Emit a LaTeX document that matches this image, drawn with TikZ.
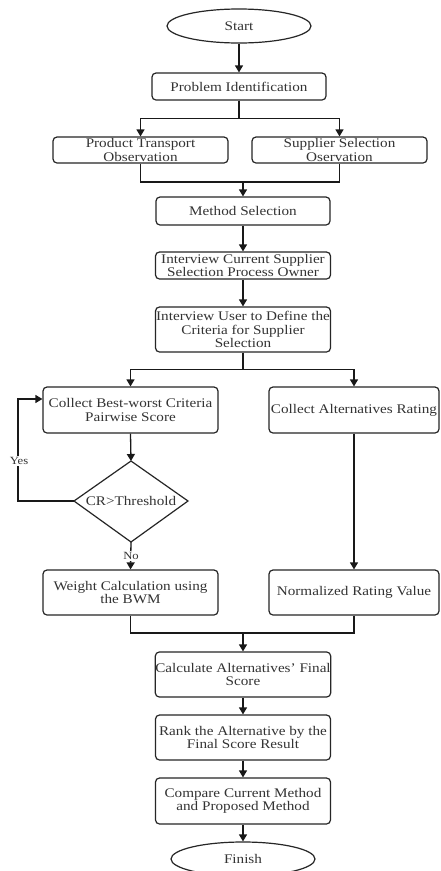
\documentclass[tikz,border=0pt]{standalone}
\usepackage{fontspec}
\setmainfont{Liberation Serif}[FakeStretch=1.15]
\usetikzlibrary{arrows.meta,shapes.geometric,calc}
\begin{document}
\begin{tikzpicture}[x=1pt,y=-1pt,
  every node/.style={font=\fontsize{13.2}{13.3}\selectfont, text=black!80},
  box/.style={draw=black!85, line width=1.2pt, rounded corners=4pt, align=center, inner sep=0pt},
  term/.style={draw=black!85, line width=1.2pt, ellipse, inner sep=0pt},
  ln/.style={draw=black!90, line width=1.3pt},
  arr/.style={ln, -{Triangle[width=8pt,length=7pt]}},
  lbl/.style={font=\fontsize{11}{12}\selectfont, fill=white, inner sep=1pt, text=black!80}]
\useasboundingbox (0,0) rectangle (440,871);
\fill[white] (0,0) rectangle (440,871);

\node[term, minimum width=144pt, minimum height=34pt] (start) at (239,26) {Start};
\node[box, minimum width=174pt, minimum height=27pt] (pi) at (239,86.5) {Problem Identification};
\node[box, minimum width=175pt, minimum height=26pt] (pto) at (140.5,150) {Product Transport\\Observation};
\node[box, minimum width=175pt, minimum height=26pt] (sso) at (339.5,150) {Supplier Selection\\Oservation};
\node[box, minimum width=174pt, minimum height=28pt] (ms) at (243,211) {Method Selection};
\node[box, minimum width=175pt, minimum height=27pt] (icur) at (243,265.5) {Interview Current Supplier\\Selection Process Owner};
\node[box, minimum width=175pt, minimum height=45pt] (iuser) at (243,329.5) {Interview User to Define the\\Criteria for Supplier\\Selection};
\node[box, minimum width=175pt, minimum height=46pt] (cb) at (130.5,410) {Collect Best-worst Criteria\\Pairwise Score};
\node[box, minimum width=170pt, minimum height=46pt] (ca) at (354,410) {Collect Alternatives Rating};
\coordinate (diaT) at (131,461);
\coordinate (diaR) at (188,501);
\coordinate (diaB) at (131,542);
\coordinate (diaL) at (74,501);
\draw[draw=black!85, line width=1.2pt, line join=miter] (diaT) -- (diaR) -- (diaB) -- (diaL) -- cycle;
\node (dia) at (131,501) {CR>Threshold};
\node[box, minimum width=175pt, minimum height=45pt] (wc) at (130.5,592.5) {Weight Calculation using\\the BWM};
\node[box, minimum width=170pt, minimum height=45pt] (nrv) at (354,592.5) {Normalized Rating Value};
\node[box, minimum width=175pt, minimum height=45pt] (calc) at (243,674.5) {Calculate Alternatives' Final\\Score};
\node[box, minimum width=175pt, minimum height=45pt] (rank) at (243,737.5) {Rank the Alternative by the\\Final Score Result};
\node[box, minimum width=175pt, minimum height=46pt] (comp) at (243,801) {Compare Current Method\\and Proposed Method};
\node[term, minimum width=144pt, minimum height=34pt] (finish) at (243,859) {Finish};

\coordinate (j1) at (243,182);
\coordinate (j2) at (243,633);

\draw[arr] (start.south) -- (pi.north);
\draw[arr] (pi.south) -- ++(0,18) -| (pto.north);
\draw[arr] (pi.south) -- ++(0,18) -| (sso.north);
\draw[ln] (pto.south) |- (j1);
\draw[ln] (sso.south) |- (j1);
\draw[arr] (j1) -- (ms.north);
\draw[arr] (ms.south) -- (icur.north);
\draw[arr] (icur.south) -- (iuser.north);
\draw[arr] (iuser.south) -- ++(0,17) -| (cb.north);
\draw[arr] (iuser.south) -- ++(0,17) -| (ca.north);
\draw[arr] (cb.south) -- (diaT);
\draw[arr] (diaL) -- ++(-56,0) |- ([yshift=11pt]cb.west);
\node[lbl] (yes) at (19,461) {Yes};
\draw[arr] (diaB) -- (wc.north);
\node[lbl] (no) at (131,556) {No};
\draw[arr] (ca.south) -- (nrv.north);
\draw[ln] (wc.south) |- (j2);
\draw[ln] (nrv.south) |- (j2);
\draw[arr] (j2) -- (calc.north);
\draw[arr] (calc.south) -- (rank.north);
\draw[arr] (rank.south) -- (comp.north);
\draw[arr] (comp.south) -- (finish.north);
\end{tikzpicture}
\end{document}
